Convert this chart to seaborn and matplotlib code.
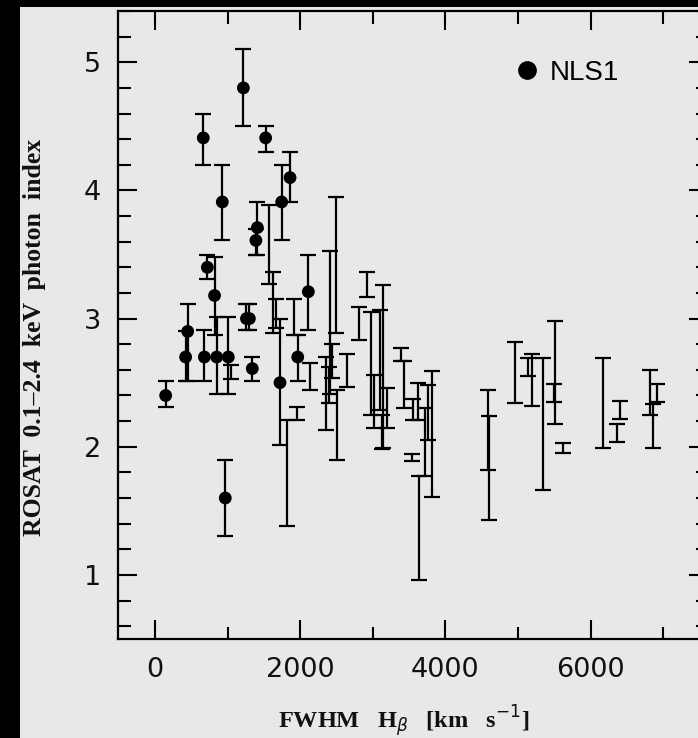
import numpy as np
import pandas as pd
import matplotlib
matplotlib.use("Agg")
import matplotlib.pyplot as plt
from matplotlib.patches import Rectangle
from matplotlib.lines import Line2D
from matplotlib.ticker import MultipleLocator
import seaborn as sns

# ---------------- data ----------------
# NLS1 objects (filled circles): FWHM Hbeta, photon index, lower / upper error bounds
nls_fwhm = [147, 422, 450, 665, 680, 721, 820, 850, 927, 968, 1010, 1217, 1260, 1300,
            1340, 1390, 1410, 1524, 1722, 1745, 1860, 1966, 2112]
nls_gamma = [2.40, 2.70, 2.90, 4.41, 2.70, 3.40, 3.18, 2.70, 3.91, 1.60, 2.70, 4.80, 3.00, 3.00,
             2.61, 3.61, 3.71, 4.41, 2.50, 3.91, 4.10, 2.70, 3.21]
nls_lo = [2.31, 2.51, 2.51, 4.20, 2.51, 3.31, 2.87, 2.41, 3.61, 1.30, 2.41, 4.50, 2.91, 2.91,
          2.51, 3.50, 3.50, 4.30, 2.01, 3.61, 3.91, 2.51, 2.91]
nls_hi = [2.51, 2.90, 3.11, 4.60, 2.91, 3.50, 3.48, 3.01, 4.20, 1.90, 3.01, 5.10, 3.11, 3.11,
          2.70, 3.70, 3.91, 4.50, 3.00, 4.20, 4.30, 2.87, 3.50]

# other (broad-line) objects: error bars only
oth_fwhm = [1050, 1575, 1630, 1660, 1814, 1919, 1950, 2135,
            2355, 2390, 2410, 2440, 2493, 2511, 2640,
            2810, 2916, 2971, 3017, 3100, 3121, 3145, 3193,
            3388, 3430, 3536, 3558, 3627, 3641, 3719, 3764, 3811,
            4591, 4600,
            4959, 5142, 5188, 5349, 5490, 5510, 5625,
            6167, 6359, 6405, 6818, 6864, 6910]
oth_lo = [2.53, 3.27, 2.89, 2.93, 1.38, 2.87, 2.21, 2.44,
          2.13, 2.34, 2.41, 2.54, 2.89, 1.90, 2.47,
          2.83, 3.17, 2.25, 2.15, 2.29, 1.98, 1.99, 2.15,
          2.67, 2.30, 1.89, 2.21, 2.21, 0.96, 1.77, 2.05, 1.61,
          1.82, 1.43,
          2.34, 2.55, 2.32, 1.66, 2.35, 2.18, 1.95,
          1.99, 2.04, 2.22, 2.25, 1.99, 2.35]
oth_hi = [2.64, 3.89, 3.36, 3.15, 2.21, 3.15, 2.31, 2.65,
          2.70, 2.62, 3.53, 2.80, 3.95, 2.44, 2.72,
          3.09, 3.36, 3.05, 2.56, 3.07, 2.25, 3.26, 2.46,
          2.77, 2.67, 1.94, 2.37, 2.50, 1.77, 2.30, 2.48, 2.59,
          2.44, 2.24,
          2.82, 2.69, 2.72, 2.69, 2.49, 2.98, 2.03,
          2.69, 2.18, 2.36, 2.60, 2.33, 2.49]

x_ticks = [0, 2000, 4000, 6000]
y_ticks = [1, 2, 3, 4, 5]
legend_label = "NLS1"
xlabel = r"FWHM   H$_{\beta}$   [km   s$^{-1}$]"
ylabel = "ROSAT  0.1\u20132.4  keV  photon  index"

# ---------------- figure ----------------
W, H = 698, 738
BG = "#e8e8e8"
sns.set_style("ticks")
plt.rcParams["font.family"] = ["DejaVu Sans"]

fig = plt.figure(figsize=(W / 100, H / 100), dpi=100, facecolor=BG)
# black scan borders
fig.patches.append(Rectangle((0, 0), 20 / W, 1, transform=fig.transFigure,
                             facecolor="black", edgecolor="none", zorder=10))
fig.patches.append(Rectangle((0, 1 - 7 / H), 1, 7 / H, transform=fig.transFigure,
                             facecolor="black", edgecolor="none", zorder=10))

# pixel geometry: x=0 at 155 px, 72.6 px per 1000 km/s
left_px, right_px, top_px, bot_px = 118, 708, 11, 639
xmin = (left_px - 155) / 72.6 * 1000
xmax = (right_px - 155) / 72.6 * 1000
ymin, ymax = 0.50, 5.40
ax = fig.add_axes([left_px / W, 1 - bot_px / H, (right_px - left_px) / W, (bot_px - top_px) / H])
ax.set_facecolor(BG)

lw = 1.6
# other objects: error bars only
oth_lo_a = np.array(oth_lo)
oth_hi_a = np.array(oth_hi)
ax.errorbar(oth_fwhm, (oth_lo_a + oth_hi_a) / 2, yerr=(oth_hi_a - oth_lo_a) / 2,
            fmt="none", ecolor="black", elinewidth=lw, capsize=5.5, capthick=lw)

# NLS1 error bars
g = np.array(nls_gamma)
ax.errorbar(nls_fwhm, g, yerr=[g - np.array(nls_lo), np.array(nls_hi) - g],
            fmt="none", ecolor="black", elinewidth=lw, capsize=5.5, capthick=lw)

df = pd.DataFrame({"fwhm": nls_fwhm, "gamma": nls_gamma})
sns.scatterplot(data=df, x="fwhm", y="gamma", ax=ax, color="black", s=85,
                edgecolor="none", zorder=5, legend=False)

ax.set_xlim(xmin, xmax)
ax.set_ylim(ymin, ymax)
ax.set_xticks(x_ticks)
ax.set_yticks(y_ticks)
ax.xaxis.set_minor_locator(MultipleLocator(1000))
ax.yaxis.set_minor_locator(MultipleLocator(0.2))
ax.tick_params(which="both", direction="in", top=True, right=True, width=1.5, color="black")
ax.tick_params(which="major", length=14, labelsize=19.5, labelcolor="#111111")
ax.tick_params(which="minor", length=9)
ax.tick_params(axis="x", which="major", pad=13)
ax.tick_params(axis="y", which="major", pad=12)
for s in ax.spines.values():
    s.set_linewidth(1.6)
    s.set_color("black")
ax.set_xlabel("")
ax.set_ylabel("")

fig.text(404 / W, 1 - 721 / H, xlabel, ha="center", va="center", fontsize=17.5,
         fontweight="bold", family=["Liberation Serif", "DejaVu Serif"], color="#111111")
fig.text(35 / W, 1 - 337 / H, ylabel, ha="center", va="center", rotation=90, fontsize=18.5,
         fontweight="bold", family=["Liberation Serif", "DejaVu Serif"], color="#111111")

handle = Line2D([], [], linestyle="none", marker="o", markersize=13.5,
                markerfacecolor="black", markeredgecolor="none")
leg = ax.legend([handle], [legend_label], loc="center left",
                bbox_to_anchor=(513 / W, 1 - 73 / H), bbox_transform=fig.transFigure,
                frameon=False, borderpad=0, borderaxespad=0, handlelength=1.0,
                handletextpad=0.33, prop={"family": "Liberation Sans", "size": 20})
for t in leg.get_texts():
    t.set_color("black")

fig.savefig("out.png", dpi=100, facecolor=BG)
